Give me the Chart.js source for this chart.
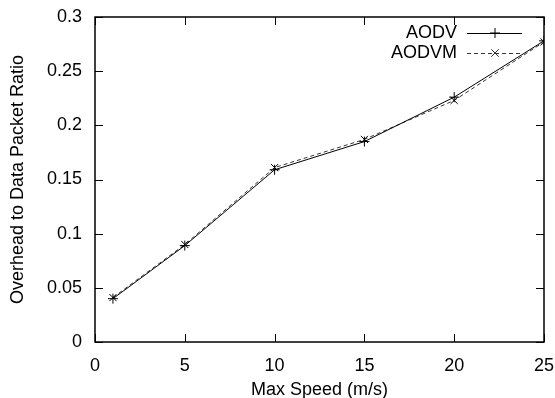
<!DOCTYPE html>
<html>
<head>
<meta charset="utf-8">
<script src="https://cdn.jsdelivr.net/npm/chart.js@4.4.0/dist/chart.umd.min.js"></script>
<style>
  html, body { margin: 0; padding: 0; background: #fff; }
  #wrap { width: 555px; height: 398px; }
</style>
</head>
<body>
<div id="wrap"><canvas id="grafico"></canvas></div>
<script>
const velocidades = [1, 5, 10, 15, 20, 25];
const aodv = [0.040, 0.089, 0.159, 0.185, 0.226, 0.278];
const aodvm = [0.041, 0.090, 0.161, 0.187, 0.223, 0.277];
const nombres = ['AODV', 'AODVM'];
const tituloX = 'Max Speed (m/s)';
const tituloY = 'Overhead to Data Packet Ratio';

const fuente = 'Liberation Sans, Arial, Helvetica, sans-serif';

// ticks hacia dentro en los cuatro lados + marco, estilo gnuplot
const marco = {
    id: 'marco',
    afterDatasetsDraw(chart) {
        const { ctx, chartArea: a, scales: { x, y } } = chart;
        const largo = 8;
        ctx.save();
        ctx.strokeStyle = '#000';
        ctx.lineWidth = 1;
        x.ticks.forEach(t => {
            const px = Math.round(x.getPixelForValue(t.value)) + 0.5;
            ctx.beginPath();
            ctx.moveTo(px, a.bottom); ctx.lineTo(px, a.bottom - largo);
            ctx.moveTo(px, a.top); ctx.lineTo(px, a.top + largo);
            ctx.stroke();
        });
        y.ticks.forEach(t => {
            const py = Math.round(y.getPixelForValue(t.value)) + 0.5;
            ctx.beginPath();
            ctx.moveTo(a.left, py); ctx.lineTo(a.left + largo, py);
            ctx.moveTo(a.right, py); ctx.lineTo(a.right - largo, py);
            ctx.stroke();
        });
        ctx.lineWidth = 1.5;
        ctx.strokeRect(a.left, a.top, a.right - a.left, a.bottom - a.top);

        // leyenda dentro del grafico, arriba a la derecha
        ctx.font = '18px ' + fuente;
        ctx.textAlign = 'right';
        ctx.textBaseline = 'middle';
        chart.data.datasets.forEach((ds, i) => {
            const yy = a.top + 16 + i * 20;
            const xt = a.right - 87;
            ctx.fillStyle = '#000';
            ctx.fillText(ds.label, xt, yy);
            ctx.strokeStyle = ds.borderColor;
            ctx.lineWidth = 1;
            ctx.setLineDash(ds.borderDash || []);
            ctx.beginPath();
            ctx.moveTo(xt + 10, yy + 0.5); ctx.lineTo(xt + 65, yy + 0.5);
            ctx.stroke();
            ctx.setLineDash([]);
            const mx = xt + 38;
            const r = 5;
            ctx.beginPath();
            if (ds.pointStyle === 'cross') {
                ctx.moveTo(mx - r, yy); ctx.lineTo(mx + r, yy);
                ctx.moveTo(mx, yy - r); ctx.lineTo(mx, yy + r);
            } else {
                const d = r * 0.75;
                ctx.moveTo(mx - d, yy - d); ctx.lineTo(mx + d, yy + d);
                ctx.moveTo(mx - d, yy + d); ctx.lineTo(mx + d, yy - d);
            }
            ctx.stroke();
        });
        ctx.restore();
    }
};

new Chart(document.querySelector('#grafico'), {
    type: 'line',
    data: {
        datasets: [{
            label: nombres[0],
            data: velocidades.map((v, i) => ({ x: v, y: aodv[i] })),
            borderColor: '#000',
            borderWidth: 1,
            pointStyle: 'cross',
            pointRadius: 5,
            pointBorderColor: '#000',
            pointBorderWidth: 1,
            fill: false,
            tension: 0
        }, {
            label: nombres[1],
            data: velocidades.map((v, i) => ({ x: v, y: aodvm[i] })),
            borderColor: '#333',
            borderWidth: 1,
            borderDash: [4, 3],
            pointStyle: 'crossRot',
            pointRadius: 5,
            pointBorderColor: '#000',
            pointBorderWidth: 1,
            fill: false,
            tension: 0
        }]
    },
    options: {
        responsive: true,
        maintainAspectRatio: false,
        animation: false,
        events: [],
        layout: { padding: { top: 17, right: 11, left: 0, bottom: 0 } },
        plugins: {
            legend: { display: false },
            tooltip: { enabled: false }
        },
        scales: {
            x: {
                type: 'linear',
                min: 0,
                max: 25,
                afterFit: s => { s.height = 56; },
                grid: { display: false, drawTicks: true, tickLength: 13 },
                border: { display: false },
                ticks: {
                    stepSize: 5,
                    color: '#000',
                    padding: 0,
                    maxRotation: 0,
                    font: { family: fuente, size: 18 }
                },
                title: {
                    display: true,
                    text: tituloX,
                    color: '#000',
                    padding: { top: 0, bottom: 0 },
                    font: { family: fuente, size: 18, lineHeight: 0.9 }
                }
            },
            y: {
                min: 0,
                max: 0.3,
                afterFit: s => { s.width = 95; },
                grid: { display: false, drawTicks: true, tickLength: 13 },
                border: { display: false },
                ticks: {
                    stepSize: 0.05,
                    color: '#000',
                    padding: 0,
                    font: { family: fuente, size: 18 },
                    callback: v => String(Math.round(v * 100) / 100)
                },
                title: {
                    display: true,
                    text: tituloY,
                    color: '#000',
                    padding: { top: 7, bottom: 0 },
                    font: { family: fuente, size: 18 }
                }
            }
        }
    },
    plugins: [marco]
});
</script>
</body>
</html>
